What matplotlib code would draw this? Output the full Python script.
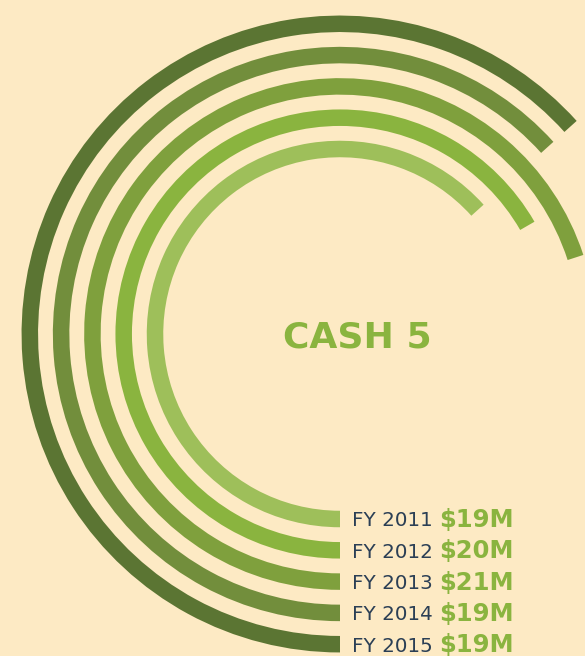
import matplotlib
matplotlib.use('Agg')
import matplotlib.pyplot as plt
from matplotlib.patches import Wedge

# data
years = ['FY 2011', 'FY 2012', 'FY 2013', 'FY 2014', 'FY 2015']
values = [19, 20, 21, 19, 19]          # $M
labels = ['$19M', '$20M', '$21M', '$19M', '$19M']
scale_max = 30                          # full circle
colors = ['#9ebf5a', '#8ab43f', '#7fa03d', '#728e3c', '#5b7533']

BG = '#fdeac4'
W, H = 585, 656
cx, cy = 340, H - 334
r0, step, band = 185, 31.3, 16.5

fig = plt.figure(figsize=(W / 100, H / 100), dpi=100)
fig.patch.set_facecolor(BG)
ax = fig.add_axes([0, 0, 1, 1])
ax.set_facecolor(BG)
ax.set_xlim(0, W)
ax.set_ylim(0, H)
ax.set_aspect('equal')
ax.axis('off')

for i, (yr, v, lab, c) in enumerate(zip(years, values, labels, colors)):
    r = r0 + i * step
    sweep = v / scale_max * 360
    ax.add_patch(Wedge((cx, cy), r + band / 2, 270 - sweep, 270,
                       width=band, facecolor=c, edgecolor='none'))
    ty = cy - r - 2
    ax.text(352, ty, yr, fontsize=14.3, color='#2b3f55', ha='left', va='center',
            family='DejaVu Sans')
    ax.text(439, ty + 1, lab, fontsize=17.5, color='#8ab43f', ha='left',
            va='center', fontweight='bold', family='DejaVu Sans')

ax.text(357, H - 338, 'CASH 5', fontsize=26, color='#8ab43f', ha='center',
        va='center', fontweight='bold', family='DejaVu Sans')

fig.savefig('out.png', dpi=100, facecolor=BG)
